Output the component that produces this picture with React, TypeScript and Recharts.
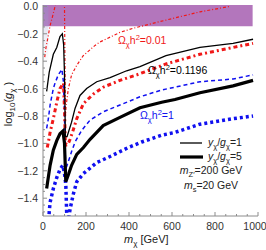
import React from "react";
import { LineChart, Line, XAxis, YAxis, ReferenceArea } from "recharts";

// tick positions
const xMajor = [0, 200, 400, 600, 800, 1000];
const xMinor = [0, 50, 100, 150, 200, 250, 300, 350, 400, 450, 500, 550, 600, 650, 700, 750, 800, 850, 900, 950, 1000];
const yMinor = [
  -1.5, -1.45, -1.4, -1.35, -1.3, -1.25, -1.2, -1.15, -1.1, -1.05, -1.0, -0.95, -0.9, -0.85, -0.8, -0.75,
  -0.7, -0.65, -0.6, -0.55, -0.5, -0.45, -0.4, -0.35, -0.3, -0.25, -0.2, -0.15, -0.1, -0.05, 0,
];

// Omega h^2 = 0.01, y/g = 1 (thin dot-dashed red)
const mRed1 = [8, 14, 25, 33, 45, 56, 70, 85, 97, 100, 102, 104, 108, 118, 133, 157, 187, 242, 265, 358, 419, 572, 730, 870];
const gRed1 = [-0.37, -0.3, -0.21, -0.14, -0.07, 0.0, 0.1, 0.18, 0.2, 0.0, -0.4, -0.8, -0.72, -0.6, -0.5, -0.43, -0.36, -0.285, -0.26, -0.19, -0.16, -0.1, -0.04, 0.0];

// Omega h^2 = 0.01, y/g = 5 (thick dot-dashed red)
const mRed5 = [20, 25, 33, 48, 64, 79, 95, 100, 104, 110, 118, 126, 141, 157, 188, 234, 280, 358, 436, 572, 730, 884, 977];
const gRed5 = [-1.03, -0.99, -0.92, -0.82, -0.7, -0.6, -0.56, -0.75, -1.0, -1.01, -1.0, -0.97, -0.9, -0.82, -0.71, -0.64, -0.59, -0.54, -0.5, -0.42, -0.35, -0.3, -0.27];

// Omega h^2 = 0.1196, y/g = 1 (thin black)
const mBlk1 = [17, 29, 48, 64, 79, 90, 96, 100, 104, 112, 120, 133, 149, 172, 203, 250, 312, 389, 451, 572, 730, 884, 977];
const gBlk1 = [-0.62, -0.48, -0.35, -0.3, -0.22, -0.2, -0.28, -0.5, -0.95, -0.95, -0.91, -0.845, -0.745, -0.65, -0.6, -0.55, -0.52, -0.47, -0.44, -0.36, -0.3, -0.27, -0.24];

// Omega h^2 = 0.1196, y/g = 5 (thick black)
const mBlk5 = [17, 33, 48, 64, 79, 93, 100, 106, 120, 133, 157, 188, 219, 280, 358, 451, 552, 614, 730, 884, 977];
const gBlk5 = [-1.33, -1.16, -1.05, -0.98, -0.93, -0.91, -1.0, -1.28, -1.22, -1.16, -1.08, -1.03, -0.97, -0.87, -0.81, -0.74, -0.7, -0.68, -0.63, -0.58, -0.54];

// Omega h^2 = 1, y/g = 1 (thin dashed blue)
const mBlu1 = [17, 25, 33, 48, 56, 71, 88, 95, 100, 105, 110, 133, 149, 180, 219, 280, 358, 451, 552, 614, 730, 884, 977];
const gBlu1 = [-0.89, -0.82, -0.72, -0.6, -0.56, -0.5, -0.46, -0.55, -0.8, -1.18, -1.17, -1.06, -0.99, -0.905, -0.83, -0.77, -0.72, -0.66, -0.61, -0.59, -0.55, -0.53, -0.5];

// Omega h^2 = 1, y/g = 5 (thick dotted blue)
const mBlu5 = [27, 29, 33, 48, 64, 79, 92, 100, 106, 110, 113, 118, 126, 141, 157, 188, 219, 250, 320, 397, 459, 552, 614, 730, 884, 977];
const gBlu5 = [-1.56, -1.5, -1.43, -1.33, -1.25, -1.19, -1.16, -1.22, -1.3, -1.5, -1.58, -1.56, -1.48, -1.37, -1.28, -1.22, -1.18, -1.14, -1.09, -1.03, -0.99, -0.94, -0.92, -0.86, -0.82, -0.8];

const zip = (m: number[], g: number[]) => m.map((v, i) => ({ m: v, g: g[i] }));

const FONT = "'Liberation Sans', Arial, sans-serif";
const FRAME = "#8c8c8c";
const RED = "#f01818";
const BLUE = "#1010f0";
const W = 266;

const isMajorY = (v: number) => Math.abs(v * 5 - Math.round(v * 5)) < 1e-6;
const fmtY = (v: number) => (Math.abs(v) < 1e-9 ? "0.0" : "\u2212" + Math.abs(v).toFixed(1));

const BottomTick = ({ x, y, payload }: any) => {
  const major = xMajor.includes(payload.value);
  // keep the last label inside the picture
  const lx = Math.min(x, W - 11);
  return (
    <g>
      <line x1={x} x2={x} y1={y} y2={y - (major ? 4 : 2)} stroke={FRAME} />
      {major && (
        <text x={lx} y={y + 14} textAnchor="middle" fontSize={10.5} fill="#333" fontFamily={FONT}>
          {payload.value}
        </text>
      )}
    </g>
  );
};

const TopTick = ({ x, y, payload }: any) => {
  const major = xMajor.includes(payload.value);
  return <line x1={x} x2={x} y1={y} y2={y + (major ? 4 : 2)} stroke={FRAME} />;
};

const LeftTick = ({ x, y, payload }: any) => {
  const major = isMajorY(payload.value);
  return (
    <g>
      <line x1={x} x2={x + (major ? 4 : 2)} y1={y} y2={y} stroke={FRAME} />
      {major && (
        <text x={x - 5} y={y + 4} textAnchor="end" fontSize={10.5} fill="#333" fontFamily={FONT}>
          {fmtY(payload.value)}
        </text>
      )}
    </g>
  );
};

const RightTick = ({ x, y, payload }: any) => {
  const major = isMajorY(payload.value);
  return <line x1={x} x2={x - (major ? 4 : 2)} y1={y} y2={y} stroke={FRAME} />;
};

const Omega = ({ x, y, value, color }: any) => (
  <text x={x} y={y} fontSize={10.5} fill={color} fontFamily={FONT}>
    Ω<tspan fontSize={7.5} dy={2.5}>χ</tspan>
    <tspan dy={-2.5}>h</tspan>
    <tspan fontSize={7.5} dy={-4}>2</tspan>
    <tspan dy={4}>={value}</tspan>
  </text>
);

const Overlay = () => (
  <svg width={W} height={250} style={{ position: "absolute", left: 0, top: 0, pointerEvents: "none" }}>
    <Omega x={118} y={44} value="0.01" color={RED} />
    <Omega x={148} y={74} value="0.1196" color="#000" />
    <Omega x={140} y={119} value="1" color={BLUE} />

    <line x1={180} x2={202} y1={143} y2={143} stroke="#000" strokeWidth={1.3} />
    <text x={208} y={146} fontSize={10.5} fontFamily={FONT} fill="#222">
      <tspan fontStyle="italic">y</tspan>
      <tspan fontSize={7.5} dy={2.5}>χ</tspan>
      <tspan dy={-2.5}>/</tspan>
      <tspan fontStyle="italic">g</tspan>
      <tspan fontSize={7.5} dy={2.5}>χ</tspan>
      <tspan dy={-2.5}>=1</tspan>
    </text>
    <line x1={180} x2={203} y1={157} y2={157} stroke="#000" strokeWidth={3.2} />
    <text x={208} y={160} fontSize={10.5} fontFamily={FONT} fill="#222">
      <tspan fontStyle="italic">y</tspan>
      <tspan fontSize={7.5} dy={2.5}>χ</tspan>
      <tspan dy={-2.5}>/</tspan>
      <tspan fontStyle="italic">g</tspan>
      <tspan fontSize={7.5} dy={2.5}>χ</tspan>
      <tspan dy={-2.5}>=5</tspan>
    </text>
    <text x={211} y={174} textAnchor="middle" fontSize={10.5} fontFamily={FONT} fill="#222">
      <tspan fontStyle="italic">m</tspan>
      <tspan fontSize={7.5} dy={2.5}>Z′</tspan>
      <tspan dy={-2.5}>=200 GeV</tspan>
    </text>
    <text x={211} y={189} textAnchor="middle" fontSize={10.5} fontFamily={FONT} fill="#222">
      <tspan fontStyle="italic">m</tspan>
      <tspan fontSize={7.5} dy={2.5}>s</tspan>
      <tspan dy={-2.5}>=20 GeV</tspan>
    </text>

    <text x={124} y={243} fontSize={11} fontFamily={FONT} fill="#222">
      <tspan fontStyle="italic">m</tspan>
      <tspan fontSize={8} dy={2.5}>χ</tspan>
      <tspan dy={-2.5}> [GeV]</tspan>
    </text>
    <text x={12} y={104} transform="rotate(-90 12 104)" textAnchor="middle" fontSize={11} fontFamily={FONT} fill="#222">
      log<tspan fontSize={8} dy={2.5}>10</tspan>
      <tspan dy={-2.5}>(</tspan>
      <tspan fontStyle="italic">g</tspan>
      <tspan fontSize={8} dy={2.5}>χ</tspan>
      <tspan dy={-2.5}> )</tspan>
    </text>
  </svg>
);

export default function App() {
  return (
    <div style={{ position: "absolute", left: 0, top: 0, width: W, height: 250, background: "#fff" }}>
      <LineChart width={W} height={250} margin={{ top: 5, right: 8, bottom: 0, left: 0 }}>
        <defs>
          <linearGradient id="strip" x1="0" y1="0" x2="0" y2="1">
            <stop offset="0%" stopColor="#8c8cc8" stopOpacity={0.8} />
            <stop offset="100%" stopColor="#d8d8e8" stopOpacity={0} />
          </linearGradient>
        </defs>
        <XAxis
          xAxisId="b"
          dataKey="m"
          type="number"
          domain={[0, 1000]}
          ticks={xMinor}
          interval={0}
          allowDataOverflow
          height={34}
          tickSize={0}
          tickMargin={0}
          tickLine={false}
          tick={<BottomTick />}
          axisLine={{ stroke: FRAME }}
        />
        <XAxis
          xAxisId="t"
          dataKey="m"
          type="number"
          orientation="top"
          domain={[0, 1000]}
          ticks={xMinor}
          interval={0}
          allowDataOverflow
          height={0}
          tickSize={0}
          tickMargin={0}
          tickLine={false}
          tick={<TopTick />}
          axisLine={{ stroke: FRAME }}
        />
        <YAxis
          yAxisId="l"
          type="number"
          domain={[-1.53, 0.01]}
          ticks={yMinor}
          interval={0}
          allowDataOverflow
          width={43}
          tickSize={0}
          tickMargin={0}
          tickLine={false}
          tick={<LeftTick />}
          axisLine={{ stroke: FRAME }}
        />
        <YAxis
          yAxisId="r"
          type="number"
          orientation="right"
          domain={[-1.53, 0.01]}
          ticks={yMinor}
          interval={0}
          allowDataOverflow
          width={0}
          tickSize={0}
          tickMargin={0}
          tickLine={false}
          tick={<RightTick />}
          axisLine={{ stroke: FRAME }}
        />
        <ReferenceArea xAxisId="b" yAxisId="l" x1={0} x2={975} y1={-0.145} y2={0.01} fill="#9a48a6" fillOpacity={0.75} stroke="none" />
        <ReferenceArea xAxisId="b" yAxisId="l" x1={0} x2={25} y1={-0.5} y2={0.01} fill="url(#strip)" stroke="none" />

        <Line xAxisId="b" yAxisId="l" data={zip(mRed1, gRed1)} dataKey="g" type="linear" stroke={RED} strokeWidth={1.2} strokeDasharray="3 2 1 2" dot={false} isAnimationActive={false} />
        <Line xAxisId="b" yAxisId="l" data={zip(mBlu1, gBlu1)} dataKey="g" type="linear" stroke={BLUE} strokeWidth={1.5} strokeDasharray="4 3" dot={false} isAnimationActive={false} />
        <Line xAxisId="b" yAxisId="l" data={zip(mRed5, gRed5)} dataKey="g" type="linear" stroke={RED} strokeWidth={3} strokeDasharray="4 3 2 3" dot={false} isAnimationActive={false} />
        <Line xAxisId="b" yAxisId="l" data={zip(mBlu5, gBlu5)} dataKey="g" type="linear" stroke={BLUE} strokeWidth={3.5} strokeDasharray="3 3" dot={false} isAnimationActive={false} />
        <Line xAxisId="b" yAxisId="l" data={zip(mBlk1, gBlk1)} dataKey="g" type="linear" stroke="#000" strokeWidth={1.3} dot={false} isAnimationActive={false} />
        <Line xAxisId="b" yAxisId="l" data={zip(mBlk5, gBlk5)} dataKey="g" type="linear" stroke="#000" strokeWidth={3.2} dot={false} isAnimationActive={false} />
      </LineChart>
      <Overlay />
    </div>
  );
}
